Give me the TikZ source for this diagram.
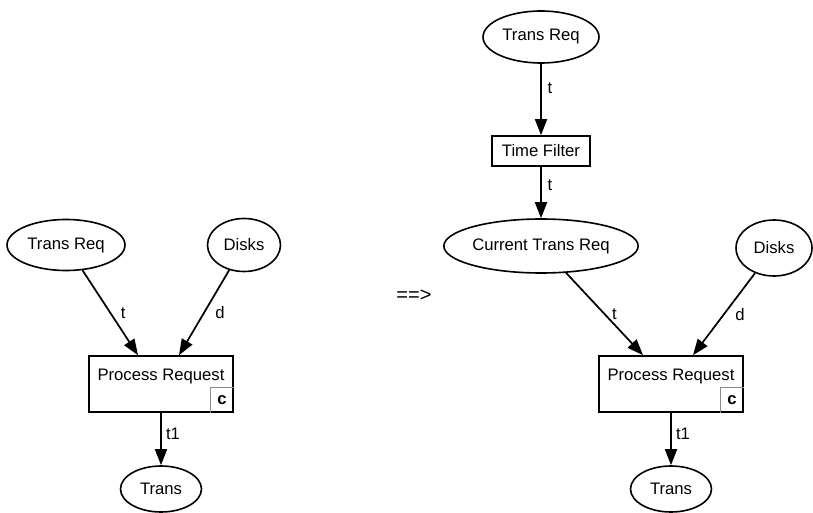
\documentclass[tikz,border=0pt]{standalone}
\usepackage{fontspec}
\setmainfont{Liberation Sans}
\usetikzlibrary{arrows.meta,calc,shapes.geometric}
% one drawing unit = 0.75pt
\newcommand{\pxu}{0.75pt}
\begin{document}
\begin{tikzpicture}[x=0.75pt,y=-0.75pt,
  every node/.style={font=\fontsize{12.5}{14}\selectfont},
  place/.style={ellipse, draw, line width=1.2pt, inner sep=0pt},
  transbox/.style={rectangle, draw, line width=1.2pt, inner sep=0pt},
  codebox/.style={rectangle, inner sep=0pt, minimum width=23*\pxu, minimum height=25*\pxu, font=\fontsize{12.5}{14}\selectfont\bfseries},
  arc/.style={draw, line width=1.3pt, -{Triangle[length=12pt,width=9pt]}},
  lbl/.style={inner sep=0pt}
]
\useasboundingbox (0,0) rectangle (813,513);

% ---------- before ----------
\node[place, minimum width=118*\pxu, minimum height=51*\pxu] (TR1) at (66,245) {Trans Req};
\node[place, minimum width=73*\pxu, minimum height=53*\pxu] (D1) at (244,245) {Disks};
\node[transbox, minimum width=144*\pxu, minimum height=56*\pxu] (PR1) at (161,384) {};
\node[anchor=base] (PR1t) at (161,380) {Process Request};
\node[codebox, anchor=south east] (C1) at (PR1.south east) {c};
\draw[black!45, line width=0.6pt] (C1.south west) |- (C1.north east);
\node[place, minimum width=81*\pxu, minimum height=46*\pxu] (T1) at (161,489) {Trans};

\coordinate (PR1a) at ($(PR1.north)+(-23,0)$);
\coordinate (PR1b) at ($(PR1.north)+(18,0)$);
\draw[arc] (TR1) -- (PR1a) node[lbl, pos=.5, xshift=13*\pxu] {t};
\draw[arc] (D1) -- (PR1b) node[lbl, pos=.5, xshift=16*\pxu] {d};
\draw[arc] (PR1) -- (T1) node[lbl, pos=.4, xshift=12*\pxu] {t1};

% ---------- rewrite sign ----------
\node[font=\fontsize{15}{18}\selectfont] (impl) at (414,296) {==>};

% ---------- after ----------
\node[place, minimum width=116*\pxu, minimum height=52*\pxu] (TR2) at (541,37) {Trans Req};
\node[transbox, minimum width=98*\pxu, minimum height=30*\pxu] (TF) at (541,151) {Time Filter};
\node[place, minimum width=162*\pxu, minimum height=54*\pxu] (CTR) at (541,246) {Current Trans Req};
\node[place, minimum width=76*\pxu, minimum height=56*\pxu] (D2) at (774,248) {Disks};
\node[transbox, minimum width=144*\pxu, minimum height=56*\pxu] (PR2) at (671,384) {};
\node[anchor=base] (PR2t) at (671,380) {Process Request};
\node[codebox, anchor=south east] (C2) at (PR2.south east) {c};
\draw[black!45, line width=0.6pt] (C2.south west) |- (C2.north east);
\node[place, minimum width=81*\pxu, minimum height=46*\pxu] (T2) at (671,489) {Trans};

\coordinate (PR2a) at ($(PR2.north)+(-28,0)$);
\coordinate (PR2b) at ($(PR2.north)+(22,0)$);
\draw[arc] (TR2) -- (TF) node[lbl, pos=.34, xshift=9*\pxu] {t};
\draw[arc] (TF) -- (CTR) node[lbl, pos=.36, xshift=9*\pxu] {t};
\draw[arc] (CTR) -- (PR2a) node[lbl, pos=.5, xshift=10*\pxu] {t};
\draw[arc] (D2) -- (PR2b) node[lbl, pos=.5, xshift=16*\pxu] {d};
\draw[arc] (PR2) -- (T2) node[lbl, pos=.4, xshift=12*\pxu] {t1};
\end{tikzpicture}
\end{document}
